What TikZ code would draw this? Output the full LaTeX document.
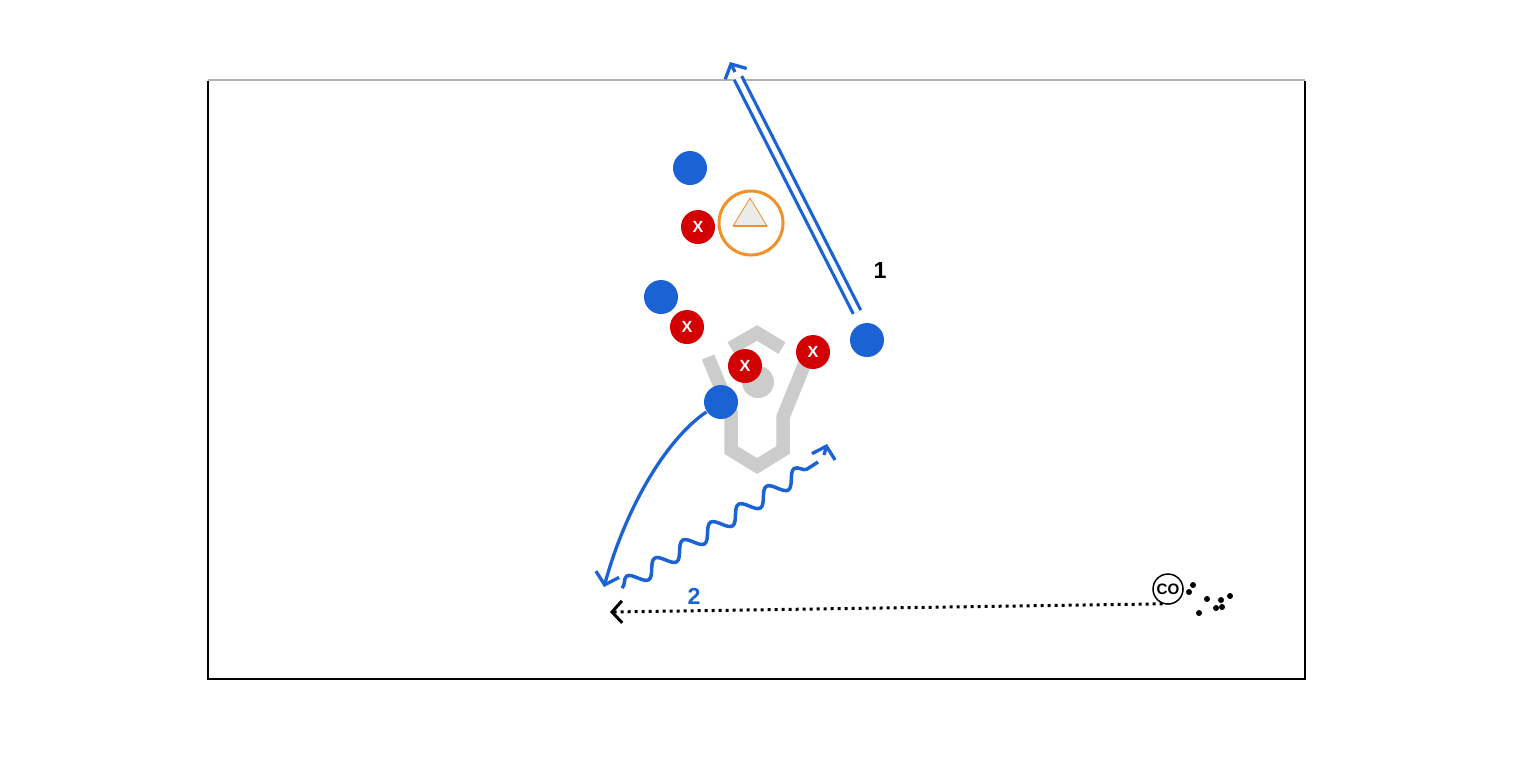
\documentclass[tikz,border=0pt]{standalone}
\usepackage{fontspec}
\setsansfont{Liberation Sans}
\usetikzlibrary{arrows.meta, decorations.pathmorphing}
\definecolor{playerblue}{RGB}{27,99,212}
\definecolor{defred}{RGB}{210,0,0}
\definecolor{coneorange}{RGB}{242,145,40}
\tikzset{
    attacker/.style={circle, fill=playerblue, minimum size=3.4mm, inner sep=0pt},
    defender/.style={circle, fill=defred, minimum size=3.4mm, inner sep=0pt, text=white, font=\sffamily\bfseries\fontsize{4.6}{5}\selectfont},
    coach/.style={circle, draw=black, line width=0.15mm, minimum size=3mm, inner sep=0pt, font=\sffamily\bfseries\fontsize{4.3}{5}\selectfont},
    ball/.style={circle, fill=black, minimum size=0.6mm, inner sep=0pt},
}

\begin{document}
\begin{tikzpicture}[x=0.1mm, y=-0.1mm,
  fieldline/.style={line width=0.2mm},
  crease/.style={black!20, line width=1.35mm, line join=miter},
  % blue movement styles
  passline/.style={playerblue, line width=0.32mm, double=white, double distance=0.5mm},
  runarr/.style={playerblue, line width=0.33mm, -{Straight Barb[length=1.1mm, width=2.4mm]}},
  wavy/.style={playerblue, line width=0.35mm, decorate, decoration={snake, amplitude=0.75mm, segment length=3.32mm}},
  tipend/.style={playerblue, line width=0.33mm, -{Straight Barb[length=1.1mm, width=2.4mm]}},
  % coach dribble
  dotarr/.style={black, line width=0.3mm, dash pattern=on 0.3mm off 0.4mm, -{Straight Barb[length=1mm, width=2.2mm]}},
  numlabel/.style={font=\sffamily\bfseries\fontsize{6.6}{8}\selectfont}
]
\useasboundingbox[fill=white] (0,0) rectangle (1515,757);

% Field
\draw[fieldline, black!30] (208,80) -- (1305,80);
\draw[fieldline] (208,81) -- (208,679) -- (1305,679) -- (1305,81);

% Goal crease
\draw[crease] (708,357) -- (731,412) -- (731,450) -- (757,466) -- (783,450) -- (783,417) -- (807,358);
\draw[crease] (731,348) -- (757,333) -- (782,348);
\fill[black!20] (758,382) circle (1.6mm);

% Cone
\node[circle, draw=coneorange, line width=0.3mm, minimum size=6.4mm, inner sep=0pt] (cone) at (751,223) {};
\filldraw[fill=black!8, draw=coneorange, line width=0.08mm] (750,198) -- (767,226) -- (733,226) -- cycle;
\draw[coneorange, line width=0.22mm] (733,226) -- (767,226);

% Attackers
\node[attacker] (b1) at (690,168) {};
\node[attacker] (b2) at (661,297) {};
\node[attacker] (b3) at (867,340) {};
\node[attacker] (b4) at (721,402) {};

% Defenders
\node[defender] (x1) at (698,227) {X};
\node[defender] (x2) at (687,327) {X};
\node[defender] (x3) at (745,366) {X};
\node[defender] (x4) at (813,352) {X};

% Coach and balls
\node[coach] (co) at (1168,589) {CO};
\foreach \bx/\by in {1193/585, 1189/592, 1207/599, 1221/600, 1230/596, 1216/608, 1222/607, 1199/613}
  \node[ball] at (\bx,\by) {};

% Pass 1
\coordinate (pass1start) at (857,312);
\coordinate (pass1end) at (738,78);
\coordinate (pass1back) at (735,72);
\coordinate (pass1tip) at (730,62);
\draw[passline] (pass1start) -- (pass1end);
\draw[tipend] (pass1back) -- (pass1tip);
\node[numlabel] (lab1) at (880,270) {1};

% Run from b4
\coordinate (runend) at (604,587);
\draw[runarr] (b4) .. controls (665,440) and (625,510) .. (runend);

% Dribble 2
\coordinate (wavestart) at (622,588);
\coordinate (waveend) at (818,462);
\coordinate (waveback) at (824,455);
\coordinate (wavetip) at (827,444);
\draw[wavy] (wavestart) -- (waveend);
\draw[tipend] (waveback) -- (wavetip);
\node[numlabel, text=playerblue] (lab2) at (694,596) {2};

% Coach ball
\coordinate (dotend) at (610,612);
\draw[dotarr] (co.250) -- (dotend);
\end{tikzpicture}
\end{document}
